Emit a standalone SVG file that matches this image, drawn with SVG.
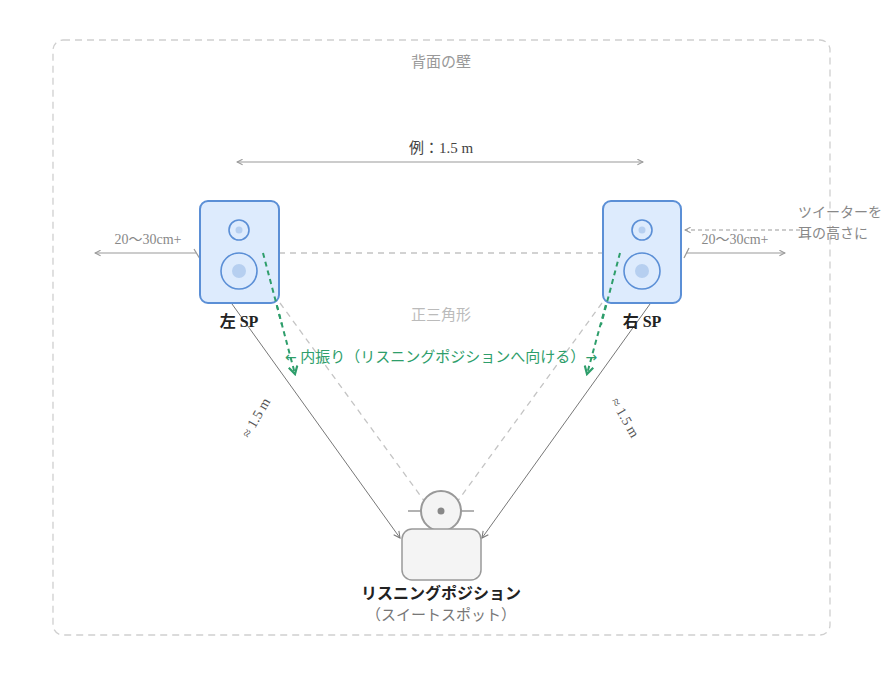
<svg xmlns="http://www.w3.org/2000/svg" width="882" height="675" viewBox="0 0 882 675">
<defs>
<style>
text{font-family:"Liberation Serif","Noto Sans CJK JP",serif;}
.gray{fill:#888;font-size:14px;}
.lbl{fill:#222;font-size:16px;font-weight:bold;}
.spk{fill:#ddebfd;stroke:#5b8fd6;stroke-width:2;}
.drv{fill:none;stroke:#5b8fd6;stroke-width:1.6;}
.dot{fill:#b6cff0;}
.dim{stroke:#999;stroke-width:1.2;fill:none;}
.green{stroke:#2e9e6b;stroke-width:2;stroke-dasharray:5 4;fill:none;}
.tri{stroke:#c4c4c4;stroke-width:1.3;stroke-dasharray:6 5;fill:none;}
.dist{stroke:#777;stroke-width:1;fill:none;}
.arr{fill:#2e9e6b;font-size:14px;font-family:"DejaVu Sans",sans-serif;}
</style>
<marker id="ag" viewBox="0 0 10 10" refX="9" refY="5" markerWidth="7" markerHeight="7" orient="auto-start-reverse" markerUnits="userSpaceOnUse">
<path d="M1,1 L9,5 L1,9" fill="none" stroke="#999" stroke-width="1.5"/>
</marker>
<marker id="ad" viewBox="0 0 10 10" refX="9" refY="5" markerWidth="8" markerHeight="8" orient="auto" markerUnits="userSpaceOnUse">
<path d="M1,1 L9,5 L1,9" fill="none" stroke="#777" stroke-width="1.3"/>
</marker>
<marker id="agr" viewBox="0 0 10 10" refX="8" refY="5" markerWidth="11" markerHeight="11" orient="auto" markerUnits="userSpaceOnUse">
<path d="M1,1 L8,5 L1,9" fill="none" stroke="#2e9e6b" stroke-width="2"/>
</marker>
</defs>
<rect width="882" height="675" fill="#fff"/>

<g id="wall">
<rect x="53" y="40" width="777" height="595" rx="10" fill="none" stroke="#cfcfcf" stroke-width="1.3" stroke-dasharray="7 5"/>
<text x="441" y="67" text-anchor="middle" style="fill:#999;font-size:15px">背面の壁</text>
</g>

<g id="connectors">
<line class="dim" x1="237" y1="162" x2="643" y2="162" marker-start="url(#ag)" marker-end="url(#ag)"/>
<line class="tri" x1="279" y1="253" x2="603" y2="253"/>
<line class="tri" x1="280" y1="303" x2="425" y2="502"/>
<line class="tri" x1="602" y1="303" x2="457" y2="502"/>
<line class="dim" x1="196" y1="253" x2="95" y2="253" marker-end="url(#ag)"/>
<line class="dim" x1="194" y1="249" x2="200" y2="259"/>
<line class="dim" x1="686" y1="253" x2="785" y2="253" marker-end="url(#ag)"/>
<line class="dim" x1="684" y1="258" x2="689" y2="248"/>
<line class="dim" x1="800" y1="230" x2="685" y2="230" stroke-dasharray="4 3" marker-end="url(#ag)"/>
<line class="dist" x1="232" y1="304" x2="400" y2="538" marker-end="url(#ad)"/>
<line class="dist" x1="650" y1="304" x2="482" y2="538" marker-end="url(#ad)"/>
<line class="green" x1="263" y1="253" x2="295" y2="374" marker-end="url(#agr)"/>
<line class="green" x1="620" y1="253" x2="587" y2="374" marker-end="url(#agr)"/>
</g>

<g id="spL">
<rect class="spk" x="200" y="201" width="79" height="102" rx="8"/>
<circle class="drv" cx="239" cy="230" r="10"/>
<circle class="dot" cx="239" cy="230" r="3.5"/>
<circle class="drv" cx="239" cy="271" r="18"/>
<circle class="dot" cx="239" cy="271" r="7"/>
<text class="lbl" x="239" y="327" text-anchor="middle">左 SP</text>
</g>
<line class="green" x1="263" y1="253" x2="282" y2="325"/>

<g id="spR">
<rect class="spk" x="603" y="201" width="78" height="102" rx="8"/>
<circle class="drv" cx="642" cy="230" r="10"/>
<circle class="dot" cx="642" cy="230" r="3.5"/>
<circle class="drv" cx="642" cy="271" r="18"/>
<circle class="dot" cx="642" cy="271" r="7"/>
<text class="lbl" x="642" y="327" text-anchor="middle">右 SP</text>
</g>
<line class="green" x1="620" y1="253" x2="601" y2="325"/>

<g id="labels">
<text x="441" y="153" text-anchor="middle" style="fill:#444;font-size:15px">例：1.5 m</text>
<text class="gray" x="148" y="244" text-anchor="middle">20〜30cm+</text>
<text class="gray" x="735" y="244" text-anchor="middle">20〜30cm+</text>
<text class="gray" x="798" y="217">ツイーターを</text>
<text class="gray" x="798" y="238">耳の高さに</text>
<text x="441" y="320" text-anchor="middle" style="fill:#bbb;font-size:15px">正三角形</text>
<text x="441" y="362" text-anchor="middle" style="fill:#2e9e6b;font-size:15px"><tspan class="arr">←</tspan> 内振り（リスニングポジションへ向ける）<tspan class="arr">→</tspan></text>
<text class="gray" x="0" y="0" text-anchor="middle" style="fill:#555" transform="translate(260,420) rotate(-60)">≈ 1.5 m</text>
<text class="gray" x="0" y="0" text-anchor="middle" style="fill:#555" transform="translate(621,420) rotate(60)">≈ 1.5 m</text>
</g>

<g id="listener">
<line x1="408" y1="511" x2="474" y2="511" stroke="#999" stroke-width="1.5"/>
<circle cx="441" cy="511" r="20" fill="#f4f4f4" stroke="#999" stroke-width="2"/>
<circle cx="441" cy="511" r="3.5" fill="#888"/>
<rect x="402" y="529" width="79" height="51" rx="10" fill="#f4f4f4" stroke="#999" stroke-width="1.5"/>
<text class="lbl" x="441" y="599" text-anchor="middle">リスニングポジション</text>
<text x="441" y="620" text-anchor="middle" style="fill:#777;font-size:15px">（スイートスポット）</text>
</g>
</svg>
